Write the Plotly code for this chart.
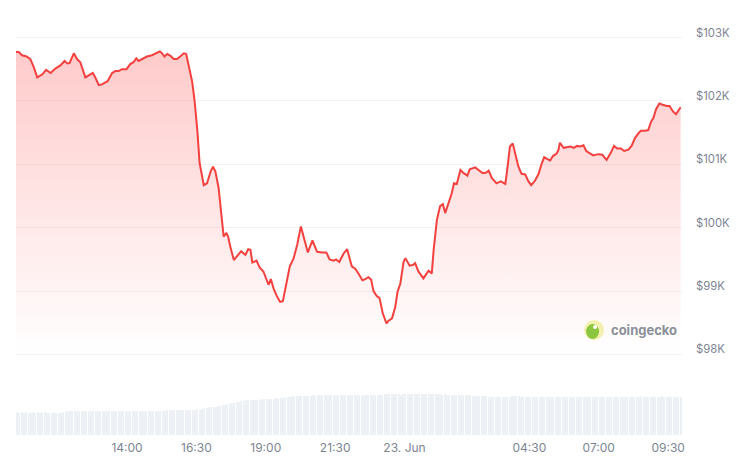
import pandas as pd
import plotly.graph_objects as go

START = "2025-06-22 10:00"

# minutes after START, and BTC price in USD
price_minutes = [
    0, 6, 13, 23, 31, 38, 46, 57, 65, 75, 85, 96, 105, 111, 116, 125, 132, 139, 150, 157,
    166, 172, 179, 186, 198, 208, 215, 222, 229, 239, 247, 254, 260, 265, 275, 283, 294, 301, 311, 316,
    321, 327, 334, 341, 348, 355, 363, 368, 373, 381, 386, 392, 397, 406, 413, 421, 426, 431, 438, 443,
    449, 455, 459, 463, 471, 478, 487, 496, 502, 507, 511, 520, 527, 535, 543, 546, 551, 557, 564, 571,
    577, 584, 592, 600, 608, 616, 623, 631, 641, 651, 662, 671, 678, 687, 692, 699, 708, 716, 726, 734,
    741, 749, 755, 762, 768, 773, 780, 786, 793, 801, 805, 813, 820, 825, 831, 838, 842, 851, 858, 863,
    870, 881, 892, 899, 903, 910, 917, 923, 928, 935, 942, 947, 953, 961, 968, 976, 981, 988, 993, 1000,
    1009, 1017, 1022, 1029, 1039, 1048, 1054, 1058, 1062, 1068, 1074, 1079, 1086, 1093, 1101, 1108, 1114, 1122, 1130, 1137,
    1142, 1149, 1155, 1161, 1169, 1173, 1176, 1184, 1192, 1199, 1206, 1213, 1220, 1227, 1233, 1241, 1248, 1259, 1268, 1272,
    1277, 1286, 1293, 1300, 1308, 1315, 1324, 1331, 1338, 1346, 1351, 1360, 1367, 1373, 1378, 1384, 1391, 1398, 1407, 1413,
    1421, 1427, 1432, 1437,
]
price_usd = [
    102770, 102770, 102720, 102700, 102660, 102540, 102370, 102420, 102490, 102440, 102510, 102560, 102630, 102590, 102600, 102750, 102660, 102610, 102370, 102400,
    102440, 102360, 102250, 102260, 102310, 102440, 102470, 102470, 102500, 102500, 102580, 102610, 102670, 102630, 102670, 102700, 102720, 102740, 102780, 102750,
    102700, 102740, 102710, 102660, 102660, 102700, 102750, 102740, 102590, 102300, 102010, 101540, 101020, 100670, 100700, 100890, 100960, 100890, 100630, 100230,
    99860, 99920, 99850, 99710, 99490, 99550, 99630, 99570, 99660, 99650, 99450, 99480, 99370, 99310, 99150, 99100, 99190, 99040, 98920, 98830,
    98840, 99100, 99390, 99510, 99730, 100020, 99810, 99610, 99800, 99620, 99610, 99610, 99500, 99480, 99500, 99460, 99590, 99660, 99390, 99350,
    99270, 99170, 99190, 99220, 99180, 99000, 98920, 98890, 98650, 98490, 98530, 98570, 98750, 98990, 99120, 99460, 99520, 99400, 99410, 99440,
    99310, 99200, 99320, 99280, 99650, 100120, 100340, 100370, 100230, 100390, 100540, 100700, 100690, 100910, 100860, 100820, 100920, 100940, 100950, 100910,
    100860, 100870, 100900, 100780, 100700, 100730, 100700, 100690, 100910, 101280, 101330, 101170, 100970, 100850, 100840, 100730, 100670, 100740, 100850, 101020,
    101110, 101080, 101060, 101130, 101170, 101230, 101340, 101260, 101270, 101280, 101260, 101290, 101280, 101300, 101210, 101170, 101140, 101160, 101150, 101110,
    101070, 101180, 101290, 101250, 101250, 101210, 101230, 101290, 101410, 101490, 101530, 101530, 101540, 101670, 101730, 101870, 101960, 101940, 101920, 101920,
    101830, 101790, 101840, 101900,
]

# 24h volume (billion USD), one bar per 5 minutes
volume_b = [
    22.8, 22.6, 22.9, 22.7, 22.8, 22.5, 22.7, 22.9, 22.6, 22.8, 22.7, 22.9,
    22.8, 22.6, 22.7, 22.5, 22.4, 22.3, 22.4, 22.6, 23.6, 23.9, 24.1, 23.8,
    24.0, 24.2, 23.9, 24.1, 24.0, 24.2, 24.3, 24.1, 24.0, 24.2, 24.3, 24.2,
    24.4, 24.2, 24.3, 24.1, 24.3, 24.4, 24.2, 24.3, 24.4, 24.2, 24.3, 24.4,
    24.3, 24.2, 24.4, 24.3, 24.5, 24.3, 24.4, 24.2, 24.3, 24.5, 24.4, 24.3,
    24.5, 24.4, 24.6, 24.5, 24.7, 24.8, 25.0, 24.9, 25.1, 25.0, 25.2, 25.1,
    25.3, 25.2, 25.5, 25.6, 25.7, 25.6, 25.8, 25.7, 26.0, 26.8, 27.5, 28.0,
    28.3, 28.4, 28.6, 28.9, 29.3, 29.8, 30.4, 31.0, 31.5, 31.9, 32.4, 33.0,
    33.6, 34.2, 34.6, 34.9, 35.0, 35.2, 35.1, 35.3, 35.4, 35.6, 35.8, 36.0,
    36.3, 36.5, 36.7, 36.6, 36.8, 37.0, 37.2, 37.6, 38.0, 38.3, 38.6, 38.9,
    39.0, 39.1, 38.9, 39.2, 39.4, 39.3, 39.5, 39.6, 39.8, 39.7, 39.9, 40.0,
    40.1, 39.9, 40.0, 40.2, 40.1, 39.8, 40.0, 40.2, 40.3, 40.1, 40.0, 40.2,
    40.3, 40.1, 40.4, 40.2, 40.3, 40.5, 40.4, 40.2, 40.6, 40.5, 40.3, 40.4,
    40.6, 40.8, 40.7, 40.9, 41.0, 40.8, 41.1, 40.9, 41.0, 40.8, 40.7, 40.9,
    41.0, 41.2, 41.1, 41.3, 41.2, 41.4, 41.3, 41.1, 41.2, 41.3, 41.1, 41.0,
    41.1, 40.9, 40.8, 41.0, 40.7, 40.8, 40.6, 40.7, 40.5, 40.6, 40.4, 40.3,
    40.4, 40.2, 40.0, 40.1, 39.8, 39.6, 39.4, 39.5, 39.2, 39.0, 38.8, 38.9,
    38.7, 38.5, 38.3, 38.6, 38.4, 38.2, 38.0, 37.9, 38.5, 38.7, 38.9, 39.0,
    38.8, 38.9, 38.7, 38.8, 38.6, 38.7, 38.5, 38.6, 38.4, 38.2, 38.3, 38.1,
    38.0, 38.2, 38.3, 38.1, 38.0, 37.8, 37.9, 38.1, 38.3, 38.2, 38.4, 38.3,
    38.1, 38.0, 38.2, 38.4, 38.3, 38.5, 38.4, 38.2, 38.3, 38.5, 38.4, 38.6,
    38.5, 38.3, 38.4, 38.6, 38.5, 38.3, 38.2, 38.4, 38.5, 38.3, 38.4, 38.6,
    38.5, 38.7, 38.6, 38.4, 38.5, 38.7, 38.8, 38.6, 38.5, 38.7, 38.6, 38.8,
    38.7, 38.5, 38.6, 38.8, 38.7, 38.6, 38.8, 38.7, 38.5, 38.6, 38.4, 38.5,
]

x_tick_times = ["2025-06-22 14:00", "2025-06-22 16:30", "2025-06-22 19:00", "2025-06-22 21:30",
                "2025-06-23 00:00", "2025-06-23 04:30", "2025-06-23 07:00", "2025-06-23 09:30"]
x_tick_labels = ["14:00", "16:30", "19:00", "21:30", "23. Jun", "04:30", "07:00", "09:30"]
y_tick_values = [98000, 99000, 100000, 101000, 102000, 103000]
y_tick_labels = ["$98K", "$99K", "$100K", "$101K", "$102K", "$103K"]

t0 = pd.Timestamp(START)
price_x = [t0 + pd.Timedelta(minutes=m) for m in price_minutes]
vol_x = [t0 + pd.Timedelta(minutes=5 * i + 2.5) for i in range(len(volume_b))]

FONT = "Inter, 'Noto Sans', sans-serif"
TEXT_GRAY = "#7d8593"

fig = go.Figure()
fig.add_trace(go.Bar(
    x=vol_x, y=volume_b, yaxis="y2",
    marker=dict(color="#edf0f4", line=dict(width=0)),
    width=5 * 60 * 1000 * 0.6,
    hoverinfo="skip", showlegend=False,
))
fig.add_trace(go.Scatter(
    x=price_x, y=price_usd, mode="lines",
    line=dict(color="#f2413f", width=2),
    fill="tozeroy",
    fillgradient=dict(type="vertical",
                      colorscale=[[0, "rgba(255,72,72,0)"], [1, "rgba(255,72,72,0.30)"]],
                      start=98000, stop=103000),
    showlegend=False,
))

# price labels sit a few pixels above their grid lines, right of the plot
price_label_annotations = [
    dict(text=lab, xref="paper", yref="y", x=1, y=val, xanchor="left", yanchor="middle",
         xshift=14, yshift=5, showarrow=False, borderpad=0, borderwidth=0,
         font=dict(family=FONT, size=11.3, color=TEXT_GRAY))
    for val, lab in zip(y_tick_values, y_tick_labels)
]

# the page body adds an 8px offset, so the figure is 8px smaller and margins shifted
fig.update_layout(
    width=732, height=461,
    margin=dict(l=8, r=58, t=12, b=34),
    paper_bgcolor="white", plot_bgcolor="rgba(0,0,0,0)",
    font=dict(family=FONT, size=12, color=TEXT_GRAY),
    showlegend=False,
    bargap=0,
    xaxis=dict(
        type="date",
        range=[t0, t0 + pd.Timedelta(minutes=1440)],
        tickvals=x_tick_times, ticktext=x_tick_labels,
        showgrid=False, showline=False, zeroline=False,
        ticks="", ticklabelstandoff=4,
        tickfont=dict(size=12, color=TEXT_GRAY),
    ),
    yaxis=dict(
        side="right", domain=[0, 1],
        range=[96730, 103276],
        tickvals=y_tick_values, showticklabels=False,
        showgrid=True, gridcolor="#f1f2f4", gridwidth=1,
        showline=False, zeroline=False, ticks="",
    ),
    yaxis2=dict(
        domain=[0, 0.15], range=[0, 62.25], anchor="x",
        visible=False, showgrid=False, zeroline=False,
    ),
    shapes=[
        dict(type="circle", xref="paper", yref="paper", xsizemode="pixel", ysizemode="pixel",
             xanchor=0.868, yanchor=0.253, x0=-10, x1=10, y0=-10, y1=10,
             fillcolor="#f4f1b0", line=dict(width=0)),
        dict(type="circle", xref="paper", yref="paper", xsizemode="pixel", ysizemode="pixel",
             xanchor=0.868, yanchor=0.253, x0=-8, x1=5, y0=-9, y1=6,
             fillcolor="#8cc63f", line=dict(width=0)),
        dict(type="circle", xref="paper", yref="paper", xsizemode="pixel", ysizemode="pixel",
             xanchor=0.868, yanchor=0.253, x0=-1, x1=3, y0=1, y1=5,
             fillcolor="white", line=dict(width=0)),
    ],
    annotations=price_label_annotations + [
        dict(text="coingecko", xref="paper", yref="paper", x=0.891, y=0.253,
             xanchor="left", yanchor="middle", showarrow=False,
             font=dict(family=FONT, size=13, color="#8a8f99", weight="bold")),
    ],
)

fig.write_html("out.html")
